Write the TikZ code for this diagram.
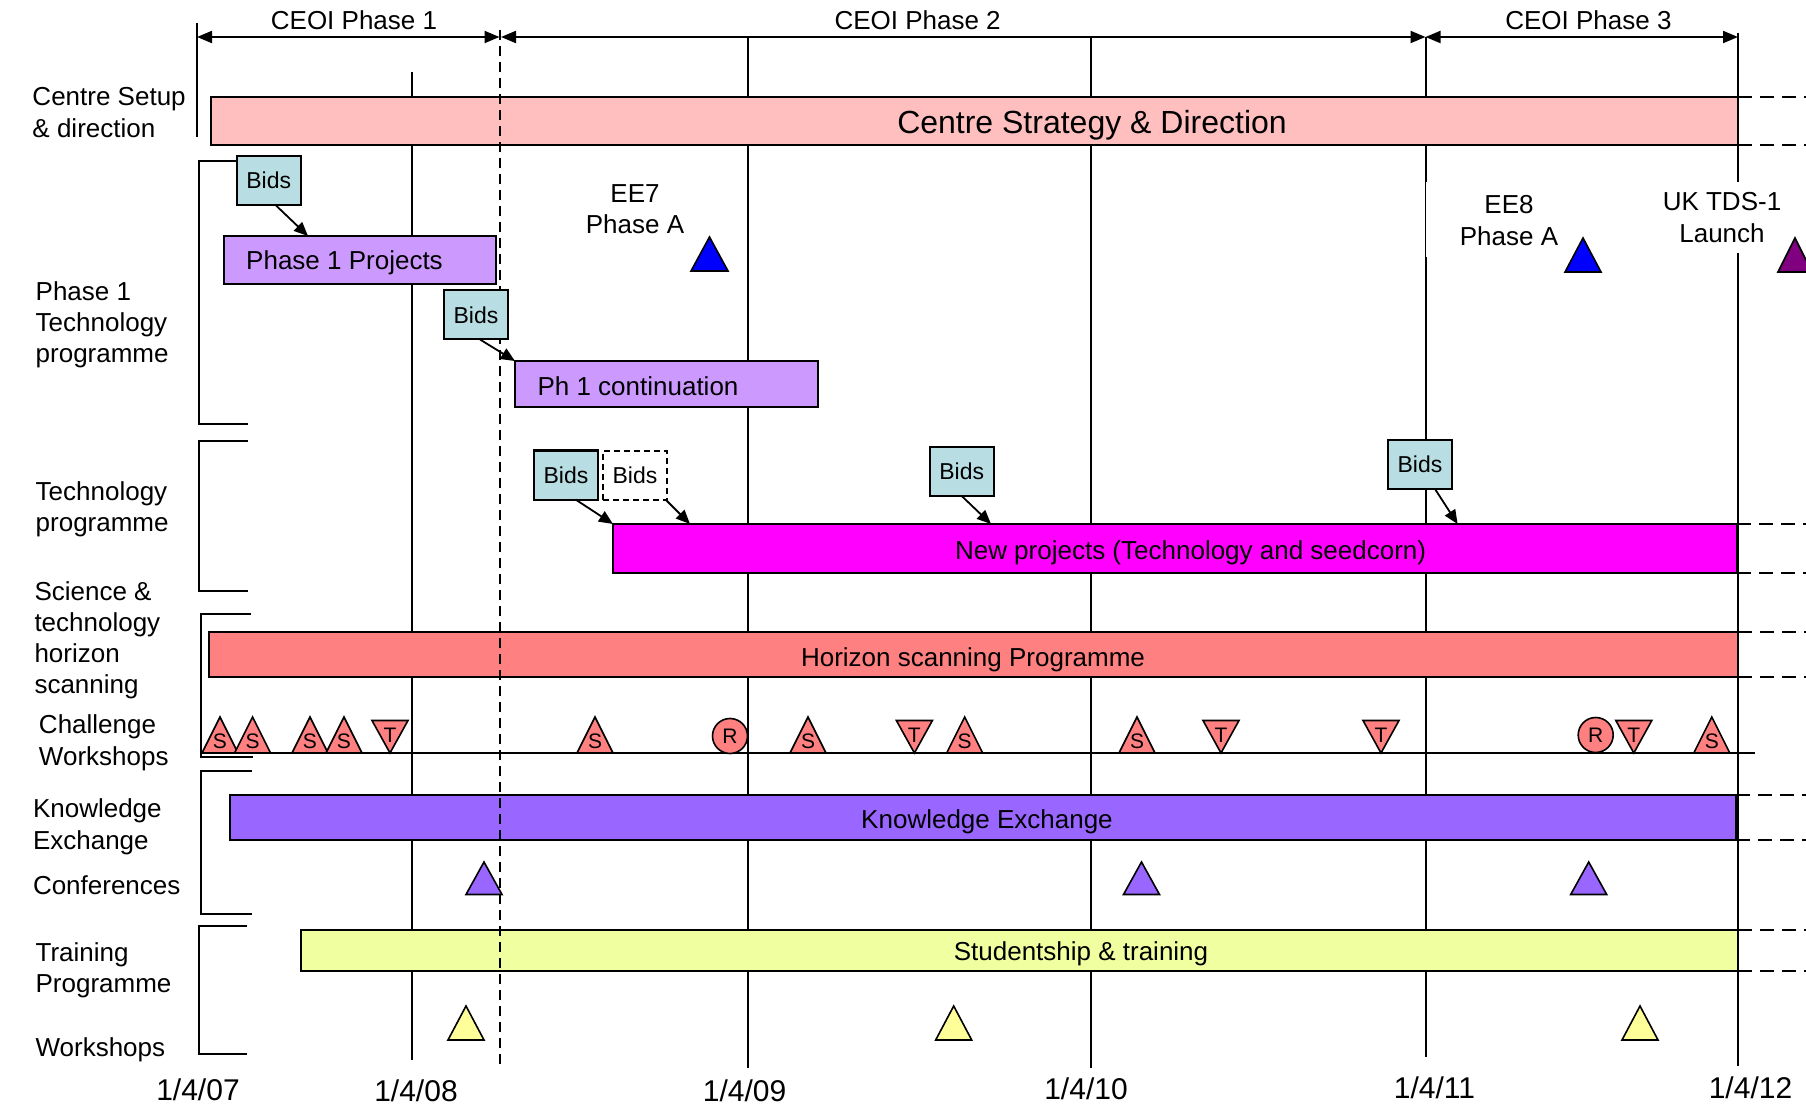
\documentclass[tikz,border=0pt]{standalone}
\usepackage{fontspec}
\setmainfont{Liberation Sans}
\usetikzlibrary{arrows.meta,calc}
\definecolor{csdpink}{HTML}{FFBFBF}
\definecolor{lav}{HTML}{CC99FF}
\definecolor{bidcyan}{HTML}{B8DEE3}
\definecolor{hsred}{HTML}{FF8080}
\definecolor{kepurple}{HTML}{9966FF}
\definecolor{trgreen}{HTML}{F0FF9F}
\definecolor{wsyellow}{HTML}{FFFF99}
\definecolor{tdspurple}{HTML}{800080}
\definecolor{npmagenta}{HTML}{FF00FF}
\definecolor{mblue}{HTML}{0000FF}
\newcommand\fs[1]{\fontsize{#1}{#1}\selectfont}
\newcommand\chS[2]{\draw[tri,fill=hsred] (#1,717) -- ({#1+18},753) -- ({#1-18},753) -- cycle; \node[letter] (#2) at (#1,741) {S};}
\newcommand\chT[2]{\draw[tri,fill=hsred] ({#1-18},720.5) -- ({#1+18},720.5) -- (#1,753) -- cycle; \node[letter] (#2) at (#1,735) {T};}
\newcommand\mtri[5]{\draw[tri,fill=#5] (#1,#2) -- ({#1+#4},#3) -- ({#1-#4},#3) -- cycle;}
\begin{document}
\begin{tikzpicture}[x=0.5pt,y=-0.5pt,
 every node/.style={inner sep=0pt, outer sep=0pt},
 lab/.style={anchor=base west, font=\fs{13}},
 ctr/.style={anchor=base, font=\fs{13}},
 bar/.style={draw=black, line width=1pt, anchor=north west},
 bidbox/.style={draw=black, line width=1pt, fill=bidcyan, minimum width=32pt, minimum height=24.5pt, font=\fs{11.5}},
 grid/.style={line width=1pt},
 ext/.style={line width=1pt, dash pattern=on 7pt off 4pt},
 vdash/.style={line width=1pt, dash pattern=on 5pt off 3pt},
 bidarrow/.style={line width=0.9pt, -{Triangle[length=7pt,width=6pt]}},
 phasearrow/.style={line width=1pt, {Triangle[length=7.5pt,width=6pt]}-{Triangle[length=7.5pt,width=6pt]}},
 tri/.style={draw=black, line width=0.8pt, line join=miter},
 letter/.style={font=\fs{10.5}},
 date/.style={anchor=base, font=\fs{15}}
]
\clip (0,0) rectangle (1806,1107);
\fill[white] (0,0) rectangle (1806,1107);

% grid lines
\draw[grid] (197,23) -- (197,137);
\draw[grid] (412,72) -- (412,1060);
\draw[grid] (747.5,37) -- (747.5,1068);
\draw[grid] (1091,37) -- (1091,1068);
\draw[grid] (1425.5,37) -- (1425.5,182);
\draw[line width=0.4pt] (1425.5,182) -- (1425.5,257);
\draw[grid] (1425.5,257) -- (1425.5,1057);
\draw[grid] (1738,33) -- (1738,182);
\draw[grid] (1738,253) -- (1738,1066);

% phase arrows
\coordinate (pa) at (197,37);
\coordinate (pb) at (499.5,37);
\coordinate (pb2) at (501,37);
\coordinate (pc) at (1425.5,37);
\coordinate (pd) at (1738,37);
\draw[phasearrow] (pa) -- (pb);
\draw[phasearrow] (pb2) -- (pc);
\draw[phasearrow] (pc) -- (pd);
\node[ctr] (ph1t) at (354,29.3) {CEOI Phase 1};
\node[ctr] (ph2t) at (917.6,29.3) {CEOI Phase 2};
\node[ctr] (ph3t) at (1588.4,29.3) {CEOI Phase 3};

% brackets and baseline
\draw[grid] (236.5,161) -- (199.4,161) -- (199.4,424) -- (248,424);
\draw[grid] (248,441) -- (199,441) -- (199,591) -- (248,591);
\draw[grid] (251,614) -- (201,614) -- (201,757) -- (252.6,757);
\draw[grid] (252,771) -- (201,771) -- (201,914) -- (252,914);
\draw[grid] (247,925.7) -- (199,925.7) -- (199,1054) -- (247,1054);
\draw[grid] (201,752.7) -- (1755,752.7);

% bars
\node[bar, fill=csdpink, minimum width=763.75pt, minimum height=24pt] (csd) at (210.5,97) {};
\node[bar, fill=lav, minimum width=136pt, minimum height=24pt] (p1) at (224,236) {};
\node[bar, fill=lav, minimum width=151.5pt, minimum height=23pt] (pcb) at (515,361) {};
\node[bar, fill=npmagenta, minimum width=562pt, minimum height=24.5pt] (np) at (613,524) {};
\node[bar, fill=hsred, minimum width=764.75pt, minimum height=22.5pt] (hs) at (208.5,632) {};
\node[bar, fill=kepurple, minimum width=753.2pt, minimum height=22.5pt] (ke) at (229.6,795) {};
\node[bar, fill=trgreen, minimum width=718.6pt, minimum height=20.35pt] (tr) at (300.8,930) {};

% right dashed extensions
\draw[ext] (csd.north east) -- (csd.north east -| 1806,0);
\draw[ext] (csd.south east) -- (csd.south east -| 1806,0);
\draw[ext] (np.north east) -- (np.north east -| 1806,0);
\draw[ext] (np.south east) -- (np.south east -| 1806,0);
\draw[ext] (hs.north east) -- (hs.north east -| 1806,0);
\draw[ext] (hs.south east) -- (hs.south east -| 1806,0);
\draw[ext] (ke.north east) -- (ke.north east -| 1806,0);
\draw[ext] (ke.south east) -- (ke.south east -| 1806,0);
\draw[ext] (tr.north east) -- (tr.north east -| 1806,0);
\draw[ext] (tr.south east) -- (tr.south east -| 1806,0);

% bar texts
\node[ctr, font=\fs{16}] (csdt) at (1092,133.3) {Centre Strategy \& Direction};
\node[ctr] (p1t) at (344.5,269.3) {Phase 1 Projects};
\node[ctr] (pct) at (638,395) {Ph 1 continuation};
\node[ctr] (npt) at (1190.6,559) {New projects (Technology and seedcorn)};
\node[ctr] (hst) at (973,666) {Horizon scanning Programme};
\node[ctr] (ket) at (987,828.3) {Knowledge Exchange};
\node[ctr] (trt) at (1081,960) {Studentship \& training};

% milestones
\mtri{709.5}{237}{271}{18.5}{mblue}
\mtri{1583}{238}{272}{18}{mblue}
\mtri{1795}{238}{272}{17}{tdspurple}
\mtri{484}{862}{894.5}{18}{kepurple}
\mtri{1141.5}{862}{894.5}{18}{kepurple}
\mtri{1588.7}{862}{894.5}{18}{kepurple}
\mtri{466}{1006}{1040}{18}{wsyellow}
\mtri{953.7}{1006}{1040}{18}{wsyellow}
\mtri{1640}{1006}{1040}{18}{wsyellow}

% challenge workshops
\chS{220}{s1}
\chS{252.6}{s2}
\chS{310}{s3}
\chS{344}{s4}
\chT{390}{t1}
\chS{595}{s5}
\node[draw, circle, fill=hsred, line width=0.8pt, minimum size=17.5pt, font=\fs{10.5}] (r1) at (730,736) {R};
\chS{808}{s6}
\chT{914.4}{t2}
\chS{964.7}{s7}
\chS{1137}{s8}
\chT{1221}{t3}
\chT{1381}{t4}
\node[draw, circle, fill=hsred, line width=0.8pt, minimum size=17.5pt, font=\fs{10.5}] (r2) at (1595.7,735) {R};
\chT{1633.8}{t5}
\chS{1711.8}{s9}

% dashed phase boundary
\draw[vdash] (499.5,30) -- (499.5,1067);

% bids boxes
\node[bidbox] (b1) at (268.75,180.5) {Bids};
\node[bidbox] (b2) at (476,315) {Bids};
\node[bidbox] (b3) at (566,475) {Bids};
\node[bidbox, fill=white, dash pattern=on 3pt off 2pt] (b4) at (635,475.5) {Bids};
\node[bidbox] (b5) at (961.7,471.5) {Bids};
\node[bidbox] (b6) at (1420,464.5) {Bids};

\draw[bidarrow] (b1.south -| 275.5,0) -- (p1.north -| 308,0);
\draw[bidarrow] (b2.south -| 480,0) -- (pcb.north west);
\draw[bidarrow] (b3.south -| 575.5,0) -- (np.north west);
\draw[bidarrow] (b4.south -| 666,0) -- (np.north -| 690,0);
\draw[bidarrow] (b5.south -| 961.7,0) -- (np.north -| 991,0);
\draw[bidarrow] (b6.south -| 1435,0) -- (np.north -| 1457.6,0);

% milestone labels
\node[ctr] (ee7a) at (635,202.3) {EE7};
\node[ctr] (ee7b) at (635,234) {Phase A};
\node[ctr] (ee8a) at (1509,213.3) {EE8};
\node[ctr] (ee8b) at (1509,245.7) {Phase A};
\node[ctr] (tdsa) at (1722,210.7) {UK TDS-1};
\node[ctr] (tdsb) at (1722,242.7) {Launch};

% left labels
\node[lab] (l1a) at (32.5,106) {Centre Setup};
\node[lab] (l1b) at (32.5,137.5) {\& direction};
\node[lab] (l2a) at (35.7,301) {Phase 1};
\node[lab] (l2b) at (35.7,332) {Technology};
\node[lab] (l2c) at (35.7,363) {programme};
\node[lab] (l3a) at (35.7,500) {Technology};
\node[lab] (l3b) at (35.7,531) {programme};
\node[lab] (l4a) at (34.5,600.3) {Science \&};
\node[lab] (l4b) at (34.5,631.3) {technology};
\node[lab] (l4c) at (34.5,662.3) {horizon};
\node[lab] (l4d) at (34.5,693.3) {scanning};
\node[lab] (l5a) at (39,733.3) {Challenge};
\node[lab] (l5b) at (39,765) {Workshops};
\node[lab] (l6a) at (33,817.3) {Knowledge};
\node[lab] (l6b) at (33,849.3) {Exchange};
\node[lab] (l6c) at (33,894.3) {Conferences};
\node[lab] (l7a) at (35.6,961.7) {Training};
\node[lab] (l7b) at (35.6,992.7) {Programme};
\node[lab] (l7c) at (35.6,1056.7) {Workshops};

% dates
\node[date] (d07) at (198,1100) {1/4/07};
\node[date] (d08) at (416,1101.7) {1/4/08};
\node[date] (d09) at (744.6,1101) {1/4/09};
\node[date] (d10) at (1086,1099.3) {1/4/10};
\node[date] (d11) at (1434.5,1098.3) {1/4/11};
\node[date] (d12) at (1750.5,1098.3) {1/4/12};
\end{tikzpicture}
\end{document}
